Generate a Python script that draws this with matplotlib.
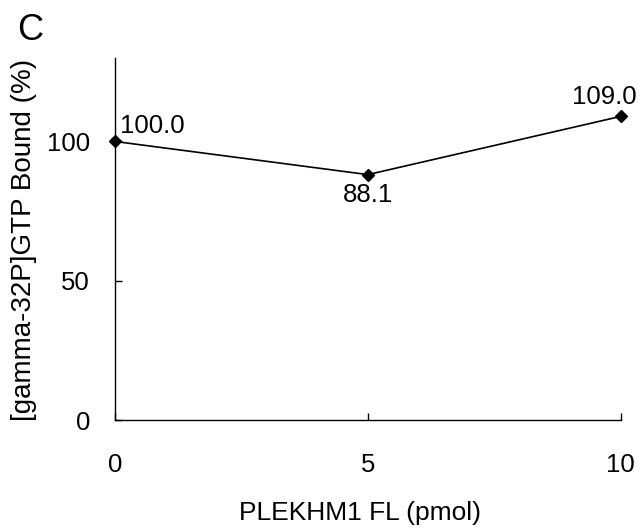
import matplotlib
matplotlib.use("Agg")
import matplotlib.pyplot as plt

plt.rcParams['font.family'] = ['Liberation Sans', 'DejaVu Sans']

# PLEKHM1 amount vs bound GTP
pmol = [0, 5, 10]
bound = [100.0, 88.1, 109.0]
labels = ["100.0", "88.1", "109.0"]

fig = plt.figure(figsize=(6.42, 5.31), dpi=100)
ax = fig.add_axes([0.179, 0.209, 0.788, 0.682])

ax.plot(pmol, bound, color='black', lw=1.2, marker='D', markersize=6,
        markerfacecolor='black', markeredgecolor='black', clip_on=False,
        zorder=3)

# value labels next to each point
offsets = [(5, 15, 'left'), (0, -20, 'center'), (16, 19, 'right')]
for x, y, txt, (dx, dy, ha) in zip(pmol, bound, labels, offsets):
    ax.annotate(txt, (x, y), xytext=(dx, dy), textcoords='offset pixels',
                ha=ha, va='center', fontsize=18.5)

ax.set_xlim(0, 10)
ax.set_ylim(0, 130)
ax.set_xticks([0, 5, 10])
ax.set_yticks([0, 50, 100])
ax.tick_params(direction='in', length=5, width=1, labelsize=18.5, colors='black')
ax.tick_params(axis='x', pad=24)
ax.tick_params(axis='y', pad=18)
for side in ['top', 'right']:
    ax.spines[side].set_visible(False)
for side in ['left', 'bottom']:
    ax.spines[side].set_linewidth(1.0)

fig.text(360 / 642, 1 - 513 / 531, "PLEKHM1 FL (pmol)",
         ha='center', va='center', fontsize=19)
fig.text(24 / 642, 1 - 240 / 531, "[gamma-32P]GTP Bound (%)",
         ha='center', va='center', rotation=90, fontsize=20)
fig.text(30 / 642, 1 - 31 / 531, "C", ha='center', va='center', fontsize=26)

fig.savefig("out.png", dpi=100)
